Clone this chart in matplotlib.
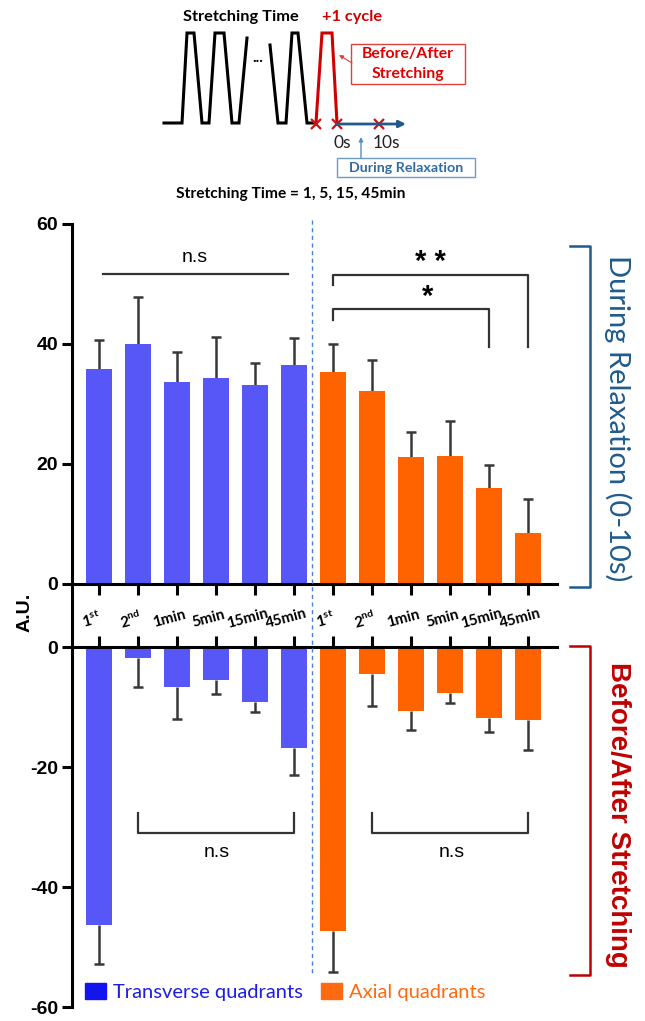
import matplotlib
matplotlib.use('Agg')
import numpy as np
import matplotlib.pyplot as plt
from matplotlib.lines import Line2D
from matplotlib.patches import Rectangle, Patch
from matplotlib.transforms import blended_transform_factory

plt.rcParams['axes.unicode_minus'] = False
plt.rcParams['mathtext.fontset'] = 'custom'
plt.rcParams['mathtext.rm'] = 'Lato'
plt.rcParams['mathtext.bf'] = 'Lato:bold'

# data
groups = ['Transverse quadrants', 'Axial quadrants']
tick_labels = ['1$^{\\mathbf{st}}$', '2$^{\\mathbf{nd}}$', '1min', '5min', '15min', '45min']

trans_relax = [35.8, 40.0, 33.7, 34.4, 33.2, 36.5]
trans_relax_err = [4.8, 7.8, 4.9, 6.7, 3.7, 4.5]
axial_relax = [35.4, 32.1, 21.1, 21.3, 16.0, 8.5]
axial_relax_err = [4.6, 5.3, 4.3, 5.9, 3.9, 5.6]

trans_stretch = [-46.4, -1.8, -6.6, -5.5, -9.1, -16.8]
trans_stretch_err = [6.5, 4.9, 5.4, 2.3, 1.8, 4.6]
axial_stretch = [-47.3, -4.5, -10.6, -7.6, -11.8, -12.2]
axial_stretch_err = [6.8, 5.3, 3.2, 1.8, 2.3, 4.9]

BLUE = '#5757f8'
ORANGE = '#ff6300'
ERR = '#383838'
ARIAL = 'Liberation Sans'
CALIBRI = 'Lato'

W, H = 645, 1021
def fx(p): return p / W
def fy(p): return 1 - p / H

fig = plt.figure(figsize=(W / 100, H / 100), dpi=100)

# schematic overlay in pixel coords
axo = fig.add_axes([0, 0, 1, 1])
axo.set_xlim(0, W)
axo.set_ylim(H, 0)
axo.axis('off')

blk1 = [(164, 123), (182, 123), (187, 33), (194, 33), (202, 123), (209, 123),
        (215, 33), (224, 33), (232, 123), (239, 123), (247, 38)]
blk2 = [(270, 45), (278, 123), (286, 123), (292, 33), (298, 33), (307, 123), (316, 123)]
red = [(316, 123), (322, 33), (332, 33), (337, 123)]
for seg, c in [(blk1, 'black'), (blk2, 'black'), (red, '#d00000')]:
    xs, ys = zip(*seg)
    axo.plot(xs, ys, color=c, lw=2.2, solid_joinstyle='miter')
axo.text(258, 58, '...', ha='center', va='center', fontsize=11, fontweight='bold', family=CALIBRI)
axo.annotate('', xy=(406, 124), xytext=(337, 124),
             arrowprops=dict(arrowstyle='-|>', color='#1f5b8e', lw=2, mutation_scale=10, shrinkA=0, shrinkB=0))
axo.plot([316, 337, 379], [124, 124, 124], ls='none', marker='x', ms=7, mew=1.6, color='#d01010')
axo.text(342, 143, '0s', ha='center', va='center', fontsize=12.5, family=CALIBRI, color='#222222')
axo.text(386, 143, '10s', ha='center', va='center', fontsize=12.5, family=CALIBRI, color='#222222')
axo.annotate('', xy=(361, 137), xytext=(361, 158),
             arrowprops=dict(arrowstyle='-|>', color='#5b8db8', lw=1, mutation_scale=6, shrinkA=0, shrinkB=0))
axo.add_patch(Rectangle((337, 158), 138, 19, fill=False, ec='#6e9cc4', lw=1))
axo.text(406, 168, 'During Relaxation', ha='center', va='center', fontsize=10.3,
         fontweight='bold', family=CALIBRI, color='#2e6ca4')
axo.add_patch(Rectangle((351, 44), 114, 40, fill=False, ec='#e04040', lw=1))
axo.text(408, 54, 'Before/After', ha='center', va='center', fontsize=11.3,
         fontweight='bold', family=CALIBRI, color='#e00000')
axo.text(408, 74, 'Stretching', ha='center', va='center', fontsize=11.3,
         fontweight='bold', family=CALIBRI, color='#e00000')
axo.annotate('', xy=(339, 55), xytext=(352, 63),
             arrowprops=dict(arrowstyle='-|>', color='#e04040', lw=0.8, mutation_scale=6, shrinkA=0, shrinkB=0))
axo.text(241, 17, 'Stretching Time', ha='center', va='center', fontsize=11.8,
         fontweight='bold', family=CALIBRI, color='black')
axo.text(352, 17, '+1 cycle', ha='center', va='center', fontsize=11.8,
         fontweight='bold', family=CALIBRI, color='#d00000')
axo.text(291, 194, 'Stretching Time = 1, 5, 15, 45min', ha='center', va='center', fontsize=11.2,
         fontweight='bold', family=CALIBRI, color='black')

# main axes
ax1 = fig.add_axes([fx(72), fy(584), fx(557) - fx(72), fy(224) - fy(584)])
ax2 = fig.add_axes([fx(72), fy(1007), fx(557) - fx(72), fy(647) - fy(1007)])

x = np.arange(12)
xt, xa = x[:6], x[6:]
bw = 0.667


def one_sided(ax, xs, vals, errs, up):
    vals = np.asarray(vals)
    errs = np.asarray(errs)
    z = np.zeros_like(errs)
    yerr = [z, errs] if up else [errs, z]
    _, caps, _ = ax.errorbar(xs, vals, yerr=yerr, fmt='none', ecolor=ERR,
                             elinewidth=1.8, capsize=3.8, capthick=1.8, zorder=1)
    # hide the cap sitting on the bar end
    for c in caps:
        if np.allclose(c.get_ydata(), vals):
            c.set_visible(False)


ax1.bar(xt, trans_relax, width=bw, color=BLUE, zorder=2)
ax1.bar(xa, axial_relax, width=bw, color=ORANGE, zorder=2)
one_sided(ax1, xt, trans_relax, trans_relax_err, True)
one_sided(ax1, xa, axial_relax, axial_relax_err, True)

ax2.bar(xt, trans_stretch, width=bw, color=BLUE, zorder=2)
ax2.bar(xa, axial_stretch, width=bw, color=ORANGE, zorder=2)
one_sided(ax2, xt, trans_stretch, trans_stretch_err, False)
one_sided(ax2, xa, axial_stretch, axial_stretch_err, False)

for ax in (ax1, ax2):
    ax.set_xlim(-0.69, 11.74)
    ax.set_facecolor('none')
    ax.spines['right'].set_visible(False)
    ax.spines['left'].set_linewidth(2.2)
    ax.set_xticks(x)
    ax.tick_params(axis='x', length=8, width=2.2, direction='out', labelbottom=False, labeltop=False)
    ax.tick_params(axis='y', length=7, width=2.2, pad=3)

ax1.set_ylim(0, 60)
ax1.spines['top'].set_visible(False)
ax1.spines['bottom'].set_linewidth(2.2)
ax1.set_yticks([0, 20, 40, 60])
ax1.set_yticklabels(['0', '20', '40', '60'], fontsize=14, fontweight='bold', family=ARIAL)

ax2.set_ylim(-60, 0)
ax2.spines['bottom'].set_visible(False)
ax2.spines['top'].set_linewidth(2.2)
ax2.xaxis.tick_top()
ax2.tick_params(axis='x', labeltop=False)
ax2.set_yticks([-60, -40, -20, 0])
ax2.set_yticklabels(['-60', '-40', '-20', '0'], fontsize=14, fontweight='bold', family=ARIAL)

# category labels in the gap
tr = blended_transform_factory(ax1.transData, fig.transFigure)
for i in x:
    ax1.text(i - 0.2, fy(619), tick_labels[i % 6], transform=tr, rotation=15, ha='center', va='center',
             fontsize=10.8, fontweight='bold', family=CALIBRI, clip_on=False)
fig.text(fx(25), fy(612), 'A.U.', rotation=90, ha='center', va='center', fontsize=14,
         fontweight='bold', family=ARIAL)

# left spine across the gap, dashed divider
tl = blended_transform_factory(ax1.transAxes, fig.transFigure)
fig.add_artist(Line2D([0, 0], [fy(584), fy(647)], transform=tl, lw=2.2, color='black', solid_capstyle='butt'))
fig.add_artist(Line2D([5.47, 5.47], [fy(220), fy(976)], transform=tr, lw=1, color='#4a80d8', ls=(0, (3, 2.5))))

# significance marks
lk = dict(color='#333333', lw=1.6, clip_on=False)
ax1.plot([0.1, 4.85], [51.7, 51.7], **lk)
ax1.text(2.46, 54.4, 'n.s', ha='center', va='center', fontsize=14, family=ARIAL)
ax1.plot([6, 6, 11, 11], [49.8, 51.5, 51.5, 39.5], **lk)
ax1.text(8.5, 53.6, '* *', ha='center', va='center', fontsize=21, fontweight='bold', family=ARIAL)
ax1.plot([6, 6, 10, 10], [44.0, 45.8, 45.8, 39.5], **lk)
ax1.text(8.43, 47.9, '*', ha='center', va='center', fontsize=21, fontweight='bold', family=ARIAL)

ax2.plot([1, 1, 5, 5], [-27.7, -31.0, -31.0, -27.7], **lk)
ax2.text(3.03, -34.3, 'n.s', ha='center', va='center', fontsize=14, family=ARIAL)
ax2.plot([7, 7, 11, 11], [-27.7, -31.0, -31.0, -27.7], **lk)
ax2.text(9.05, -34.3, 'n.s', ha='center', va='center', fontsize=14, family=ARIAL)

# right side brackets and titles
ax1.plot([12.08, 12.59, 12.59, 12.08], [56.3, 56.3, -0.5, -0.5], color='#1f5b8e', lw=1.8, clip_on=False)
ax1.text(13.3, 27.7, 'During Relaxation (0-10s)', rotation=270, ha='center', va='center',
         fontsize=21, family=CALIBRI, color='#1f5b8e', clip_on=False)
ax2.plot([12.08, 12.59, 12.59, 12.08], [0.2, 0.2, -54.6, -54.6], color='#c00000', lw=1.8, clip_on=False)
ax2.text(13.3, -28, 'Before/After Stretching', rotation=270, ha='center', va='center',
         fontsize=20, fontweight='bold', family=ARIAL, color='#c00000', clip_on=False)

# legend
handles = [Patch(color='#1414ee'), Patch(color='#ff6a10')]
ax2.legend(handles, groups, loc='lower left', bbox_to_anchor=(fx(85), fy(1001)), bbox_transform=fig.transFigure,
           ncol=2, frameon=False, borderpad=0, borderaxespad=0, handlelength=1.05, handleheight=0.9,
           handletextpad=0.35, columnspacing=0.9, prop={'family': CALIBRI, 'size': 14.5},
           labelcolor=['#1c1ce8', '#ff6a10'])

fig.savefig('out.png', dpi=100)
